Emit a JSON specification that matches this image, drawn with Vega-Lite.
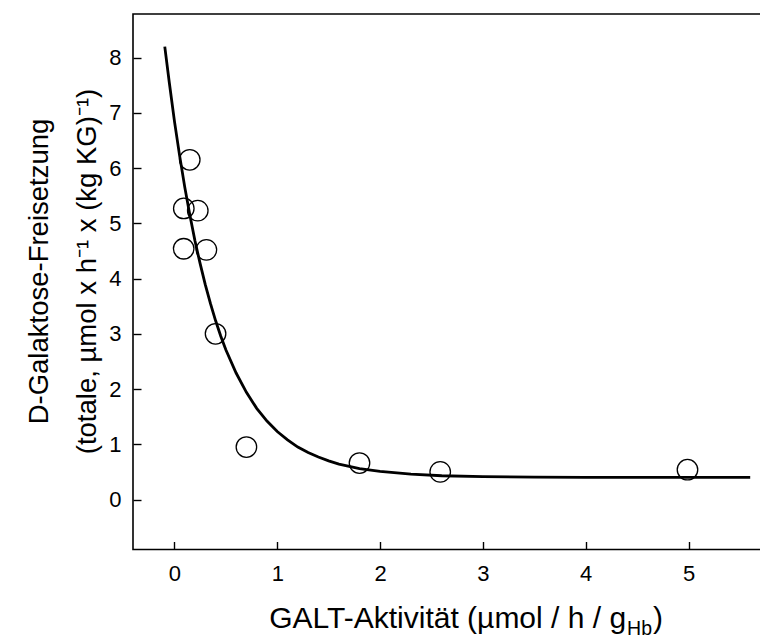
{
  "$schema": "https://vega.github.io/schema/vega-lite/v6.json",
  "autosize": {"type": "none"},
  "padding": {"left": 133, "top": 14, "right": 0, "bottom": 90},
  "width": 628,
  "height": 535.5,
  "config": {
    "view": {"stroke": "#000000", "strokeWidth": 1.6},
    "font": "Liberation Sans",
    "text": {"font": "Liberation Sans", "color": "#000000"},
    "axis": {
      "domain": false,
      "grid": false,
      "offset": -8,
      "tickColor": "#000000",
      "tickWidth": 1.4,
      "tickSize": 8,
      "labelColor": "#000000",
      "labelFontSize": 22,
      "labelFont": "Liberation Sans",
      "titleColor": "#000000",
      "titleFont": "Liberation Sans",
      "titleFontWeight": "normal"
    }
  },
  "datasets": {
    "points": [
      {"x": 0.149, "y": 6.15},
      {"x": 0.091, "y": 5.27},
      {"x": 0.227, "y": 5.23},
      {"x": 0.09, "y": 4.54},
      {"x": 0.311, "y": 4.52},
      {"x": 0.40, "y": 3.0},
      {"x": 0.70, "y": 0.95},
      {"x": 1.80, "y": 0.66},
      {"x": 2.585, "y": 0.50},
      {"x": 4.99, "y": 0.54}
    ],
    "curve": [
      {"x": -0.094, "y": 8.2},
      {"x": -0.05, "y": 7.55},
      {"x": 0.0, "y": 6.85},
      {"x": 0.05, "y": 6.23},
      {"x": 0.1, "y": 5.66},
      {"x": 0.15, "y": 5.15},
      {"x": 0.2, "y": 4.68},
      {"x": 0.25, "y": 4.27},
      {"x": 0.3, "y": 3.89},
      {"x": 0.35, "y": 3.55},
      {"x": 0.4, "y": 3.24},
      {"x": 0.45, "y": 2.96},
      {"x": 0.5, "y": 2.71},
      {"x": 0.6, "y": 2.29},
      {"x": 0.7, "y": 1.94},
      {"x": 0.8, "y": 1.65},
      {"x": 0.9, "y": 1.42},
      {"x": 1.0, "y": 1.23},
      {"x": 1.1, "y": 1.08},
      {"x": 1.2, "y": 0.95},
      {"x": 1.3, "y": 0.85},
      {"x": 1.4, "y": 0.77},
      {"x": 1.5, "y": 0.70},
      {"x": 1.6, "y": 0.64},
      {"x": 1.8, "y": 0.56},
      {"x": 2.0, "y": 0.51},
      {"x": 2.3, "y": 0.46},
      {"x": 2.6, "y": 0.43},
      {"x": 3.0, "y": 0.414},
      {"x": 3.5, "y": 0.405},
      {"x": 4.0, "y": 0.40},
      {"x": 5.0, "y": 0.40},
      {"x": 5.6, "y": 0.40}
    ]
  },
  "layer": [
    {
      "data": {"name": "curve"},
      "mark": {"type": "line", "color": "#000000", "strokeWidth": 2.8},
      "encoding": {
        "x": {
          "field": "x",
          "type": "quantitative",
          "scale": {"domain": [-0.403, 5.705], "nice": false, "zero": false},
          "axis": {
            "orient": "bottom",
            "values": [0, 1, 2, 3, 4, 5],
            "format": "d",
            "labelPadding": 14,
            "title": null
          }
        },
        "y": {
          "field": "y",
          "type": "quantitative",
          "scale": {"domain": [-0.905, 8.79], "nice": false, "zero": false},
          "axis": {
            "orient": "left",
            "values": [0, 1, 2, 3, 4, 5, 6, 7, 8],
            "format": "d",
            "labelPadding": 12,
            "title": ["D-Galaktose-Freisetzung", "(totale, µmol x h⁻¹ x (kg KG)⁻¹)"],
            "titleFontSize": 27.5,
            "titleAngle": -90,
            "titleBaseline": "alphabetic",
            "titleAlign": "center",
            "titleLineHeight": 48,
            "titleX": -94,
            "titleY": 257
          }
        }
      }
    },
    {
      "data": {"name": "points"},
      "mark": {"type": "point", "shape": "circle", "filled": false, "stroke": "#000000", "strokeWidth": 1.3, "size": 420, "opacity": 1},
      "encoding": {
        "x": {"field": "x", "type": "quantitative"},
        "y": {"field": "y", "type": "quantitative"}
      }
    },
    {
      "data": {"values": [{"t": "GALT-Aktivität (µmol / h / g"}]},
      "mark": {"type": "text", "align": "right", "baseline": "alphabetic", "fontSize": 30, "color": "#000000"},
      "encoding": {
        "x": {"datum": 4.393, "type": "quantitative"},
        "y": {"datum": -2.327, "type": "quantitative"},
        "text": {"field": "t"}
      }
    },
    {
      "data": {"values": [{"t": "Hb"}]},
      "mark": {"type": "text", "align": "left", "baseline": "alphabetic", "fontSize": 19.5, "dx": 1, "dy": 7, "color": "#000000"},
      "encoding": {
        "x": {"datum": 4.393, "type": "quantitative"},
        "y": {"datum": -2.327, "type": "quantitative"},
        "text": {"field": "t"}
      }
    },
    {
      "data": {"values": [{"t": ")"}]},
      "mark": {"type": "text", "align": "left", "baseline": "alphabetic", "fontSize": 30, "dx": 27, "color": "#000000"},
      "encoding": {
        "x": {"datum": 4.393, "type": "quantitative"},
        "y": {"datum": -2.327, "type": "quantitative"},
        "text": {"field": "t"}
      }
    }
  ]
}
